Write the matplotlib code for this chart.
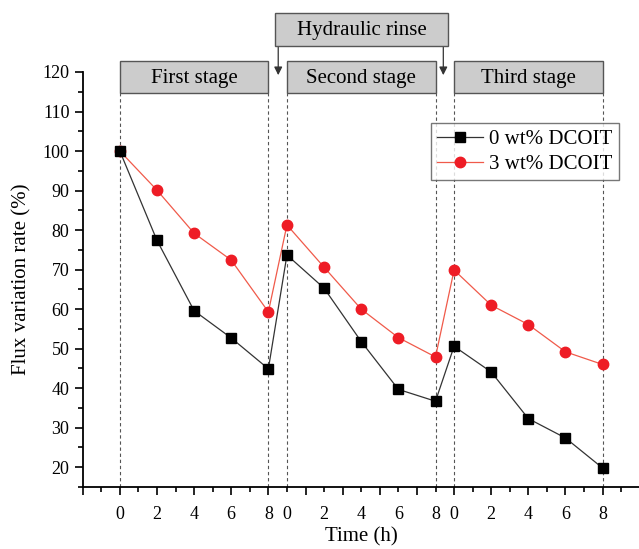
import numpy as np
import matplotlib
matplotlib.use("Agg")
import matplotlib.pyplot as plt
from matplotlib.patches import Rectangle

plt.rcParams['font.family'] = ['Liberation Serif', 'DejaVu Serif']

# time within each stage (h); stages are laid end to end with 1 h gap
stage_hours = [0, 2, 4, 6, 8]
stage_offsets = [0, 9, 18]
stage_names = ["First stage", "Second stage", "Third stage"]

flux_0wt = [[100, 77.4, 59.6, 52.7, 44.9],
            [73.7, 65.3, 51.8, 39.7, 36.7],
            [50.6, 44.1, 32.3, 27.4, 19.8]]
flux_3wt = [[100, 90.1, 79.2, 72.4, 59.3],
            [81.3, 70.6, 60.0, 52.8, 47.9],
            [69.9, 61.0, 56.1, 49.2, 46.0]]

x = np.concatenate([np.array(stage_hours) + o for o in stage_offsets])
y0 = np.concatenate(flux_0wt)
y3 = np.concatenate(flux_3wt)

fig = plt.figure(figsize=(6.39, 5.49), dpi=100)
ax = fig.add_axes([0.1294, 0.1129, 0.8718, 0.756])

ax.plot(x, y0, '-s', color='#333333', mfc='black', mec='black', lw=0.9,
        ms=6.5, label='0 wt% DCOIT', zorder=4)
ax.plot(x, y3, '-o', color='#f05a4a', mfc='#ee1c25', mec='#ee1c25', lw=0.9,
        ms=7.5, label='3 wt% DCOIT', zorder=3)

ax.set_xlim(-2, 28)
ax.set_ylim(15, 120)

# stage boundaries
box_lo, box_hi = 114.6, 122.9
for o in stage_offsets:
    ax.vlines([o, o + 8], 15, box_lo, colors='#555555', linestyles=(0, (3, 2.5)),
              lw=0.8, zorder=1)

for o, name in zip(stage_offsets, stage_names):
    ax.add_patch(Rectangle((o, box_lo), 8, box_hi - box_lo, facecolor='#cccccc',
                           edgecolor='#555555', lw=1.0, clip_on=False, zorder=5))
    ax.text(o + 4, (box_lo + box_hi) / 2 - 0.3, name, ha='center', va='center',
            fontsize=15, clip_on=False, zorder=6)

# hydraulic rinse box with arrows
ax.add_patch(Rectangle((8.35, 126.6), 17.69 - 8.35, 134.85 - 126.6,
                       facecolor='#cccccc', edgecolor='#555555', lw=1.0,
                       clip_on=False, zorder=5))
ax.text((8.35 + 17.69) / 2, (126.6 + 134.85) / 2 - 0.3, "Hydraulic rinse",
        ha='center', va='center', fontsize=15, clip_on=False, zorder=6)
for ax_x in [8.53, 17.42]:
    ax.annotate('', xy=(ax_x, 119.2), xytext=(ax_x, 126.6),
                arrowprops=dict(arrowstyle='-|>', color='#333333', lw=0.9,
                                mutation_scale=12, shrinkA=0, shrinkB=0),
                annotation_clip=False)

# axes styling
for s in ['top', 'right']:
    ax.spines[s].set_visible(False)
for s in ['left', 'bottom']:
    ax.spines[s].set_linewidth(1.3)

ax.set_xticks(np.arange(-2, 29, 2))
ax.set_xticks(np.arange(-1, 28, 2), minor=True)
ax.set_xticklabels([])
ax.set_yticks(np.arange(20, 121, 10))
ax.set_yticks(np.arange(15, 121, 5), minor=True)
ax.tick_params(which='major', direction='out', length=6, width=1.2, labelsize=13)
ax.tick_params(which='minor', direction='out', length=3.5, width=1.2)

# stage-relative time labels
sec = ax.secondary_xaxis('bottom')
sec.set_xticks(x, [str(h) for h in stage_hours] * 3)
sec.tick_params(length=0, pad=14, labelsize=13)
sec.spines['bottom'].set_visible(False)
sec.set_xlabel('Time (h)', fontsize=15, labelpad=3)

ax.set_ylabel('Flux variation rate (%)', fontsize=15, labelpad=8)

leg = ax.legend(loc='upper left', bbox_to_anchor=(0.625, 0.876), fontsize=15,
                frameon=True, fancybox=False, handlelength=2.2,
                borderpad=0.3, labelspacing=0.25, handletextpad=0.3,
                borderaxespad=0)
leg.get_frame().set_edgecolor('#555555')
leg.get_frame().set_linewidth(1.0)

fig.savefig('out.png', dpi=100)
